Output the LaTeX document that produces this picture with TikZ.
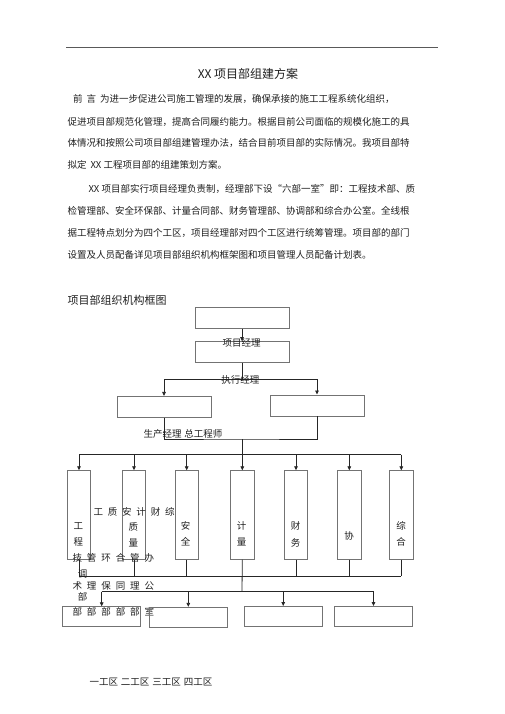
\documentclass[tikz,border=0pt]{standalone}
\usepackage{fontspec}
\setmainfont{Noto Sans CJK SC}
\usetikzlibrary{arrows.meta}
\begin{document}
\begin{tikzpicture}[x=1pt,y=-1pt,
  txt/.style={inner sep=0pt, font=\fontsize{9.5}{9.5}\selectfont, text=black!88},
  para/.style={txt, anchor=west},
  box/.style={draw=black!55, line width=0.8pt, inner sep=0pt},
  hbox/.style={box, minimum width=94pt, minimum height=21pt},
  vbox/.style={box, minimum width=23.5pt, minimum height=88.6pt},
  wbox/.style={box, minimum width=78pt, minimum height=20pt},
  conn/.style={draw=black!85, line width=0.8pt},
  arr/.style={conn, -{Triangle[length=4pt,width=3.6pt]}}]
\useasboundingbox (0,0) rectangle (505,714);
% header rule
\coordinate (r1) at (66,47);
\coordinate (r2) at (438,47);
\draw[draw=black!65, line width=0.7pt] (r1) -- (r2);
\node[txt, font=\fontsize{12}{12}\selectfont] (title) at (248,74) {XX 项目部组建方案};
% paragraphs
\node[para] (p1) at (73,99.3) {前\hspace{4pt}言\hspace{4pt}为进一步促进公司施工管理的发展，确保承接的施工工程系统化组织，};
\node[para] (p2) at (67.3,121.7) {促进项目部规范化管理，提高合同履约能力。根据目前公司面临的规模化施工的具};
\node[para] (p3) at (67.3,143.3) {体情况和按照公司项目部组建管理办法，结合目前项目部的实际情况。我项目部特};
\node[para] (p4) at (67.3,165) {拟定\hspace{4pt}XX 工程项目部的组建策划方案。};
\node[para] (q1) at (88.3,189) {XX 项目部实行项目经理负责制，经理部下设“六部一室”即：工程技术部、质};
\node[para] (q2) at (67.3,211) {检管理部、安全环保部、计量合同部、财务管理部、协调部和综合办公室。全线根};
\node[para] (q3) at (67.3,233.3) {据工程特点划分为四个工区，项目经理部对四个工区进行统筹管理。项目部的部门};
\node[para] (q4) at (67.3,255) {设置及人员配备详见项目部组织机构框架图和项目管理人员配备计划表。};
\node[para, font=\fontsize{11}{11}\selectfont] (head) at (67.3,300) {项目部组织机构框图};
% top boxes
\node[hbox] (b1) at (242,317.8) {};
\node[hbox] (b2) at (242,352) {};
\node[hbox] (b3) at (164,406.8) {};
\node[hbox] (b4) at (317,405.4) {};
\coordinate (h1) at (242,379.3);
\coordinate (j1) at (242,439);
\coordinate (j2) at (242,454.7);
\draw[arr] (b1.south) -- (b2.north);
\draw[conn] (b2.south) -- (h1);
\draw[arr] (h1) -| (b3.north);
\draw[arr] (h1) -| (b4.north);
\draw[conn] (b3.south) |- (j1) -| (b4.south);
\draw[conn] (j1) -- (j2);
\node[txt] (t1) at (241.7,342.7) {项目经理};
\node[txt] (t2) at (240.3,380) {执行经理};
\node[txt, anchor=west] (t3) at (143.3,434) {生产经理\hspace{3pt}总工程师};
% column boxes
\node[vbox] (cA) at (79,515) {};
\node[vbox] (cB) at (134,515) {};
\node[vbox] (cC) at (186.7,515) {};
\node[vbox] (cD) at (242.3,515) {};
\node[vbox] (cE) at (296,515) {};
\node[vbox] (cF) at (349.3,515) {};
\node[vbox] (cG) at (401.3,515) {};
\draw[conn] (j2 -| cA.north) -- (j2 -| cG.north);
\foreach \c in {cA,cB,cC,cD,cE,cF,cG}{
  \draw[arr] (j2 -| \c.north) -- (\c.north);
}
\coordinate (j3) at (242,576);
\coordinate (j4) at (242,591.7);
\foreach \c in {cA,cB,cC,cE,cF,cG}{
  \draw[conn] (\c.south) -- (\c.south |- j3);
}
\draw[conn] (j3 -| cA.south) -- (j3 -| cG.south);
\draw[conn] (cD.south) -- (j4);
% box labels
\node[txt] (la1) at (78.3,526) {工};
\node[txt] (la2) at (78.3,541.7) {程};
\node[txt] (lb1) at (133.3,526.7) {质};
\node[txt] (lb2) at (133.3,542.7) {量};
\node[txt] (lc1) at (185.7,526) {安};
\node[txt] (lc2) at (185.7,542) {全};
\node[txt] (ld1) at (241.7,526) {计};
\node[txt] (ld2) at (241.7,542) {量};
\node[txt] (le1) at (295.7,526) {财};
\node[txt] (le2) at (295.7,542.7) {务};
\node[txt] (lf1) at (349,536) {协};
\node[txt] (lg1) at (401,526) {综};
\node[txt] (lg2) at (401,541.7) {合};
% scattered labels
\foreach \ch [count=\i from 0] in {工,质,安,计,财,综}{
  \node[txt] (ra\i) at (98.3+14.3*\i,511.7) {\ch};
}
\foreach \ch [count=\i from 0] in {技,管,环,合,管,办}{
  \node[txt] (rb\i) at (77.3+14.4*\i,558.3) {\ch};
}
\node[txt] (rtiao) at (82.7,574) {调};
\foreach \ch [count=\i from 0] in {术,理,保,同,理,公}{
  \node[txt] (rc\i) at (77.3+14.4*\i,586) {\ch};
}
\node[txt] (rbu) at (82.7,596.7) {部};
\foreach \ch [count=\i from 0] in {部,部,部,部,部,室}{
  \node[txt] (rd\i) at (77.3+14.4*\i,611.7) {\ch};
}
% work area boxes
\node[wbox] (w1) at (101.7,616.7) {};
\node[wbox] (w2) at (188.3,617.3) {};
\node[wbox] (w3) at (283.2,616.4) {};
\node[wbox] (w4) at (373.5,616.4) {};
\draw[conn] (j4 -| w1.north) -- (j4 -| w4.north);
\foreach \w in {w1,w2,w3,w4}{
  \draw[arr] (j4 -| \w.north) -- (\w.north);
}
\node[txt, anchor=west] (zones) at (89.3,681.7) {一工区\hspace{3pt}二工区\hspace{3pt}三工区\hspace{3pt}四工区};
\end{tikzpicture}
\end{document}
